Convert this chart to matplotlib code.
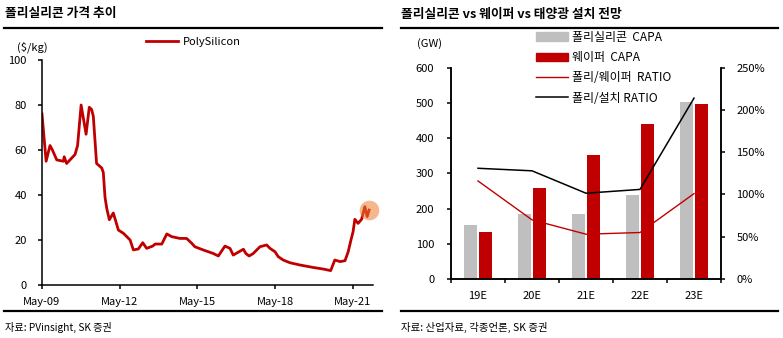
import pandas as pd
import numpy as np
import matplotlib
matplotlib.use("Agg")
import matplotlib.pyplot as plt
import matplotlib.dates as mdates
from matplotlib.lines import Line2D
from matplotlib.patches import Patch
from matplotlib.ticker import FuncFormatter

plt.rcParams["font.family"] = ["Noto Sans CJK KR", "DejaVu Sans"]

# ----------------------------
# Data
# ----------------------------

# polysilicon spot price ($/kg)
poly_dates = [
    "2009-05-01", "2009-06-28", "2009-08-22", "2009-09-25", "2009-11-25",
    "2010-02-27", "2010-03-10", "2010-04-13", "2010-08-10", "2010-09-15",
    "2010-11-04", "2011-01-13", "2011-02-27", "2011-04-01", "2011-04-25",
    "2011-06-10", "2011-08-22", "2011-09-13", "2011-10-07", "2011-11-01",
    "2011-12-07", "2012-02-01", "2012-04-13", "2012-06-22", "2012-09-25",
    "2012-11-10", "2013-01-19", "2013-03-22", "2013-05-16", "2013-08-10",
    "2013-09-13", "2013-12-16", "2014-02-25", "2014-05-04", "2014-08-28",
    "2014-12-01", "2015-02-13", "2015-03-28", "2015-07-22", "2015-12-13",
    "2016-02-22", "2016-05-25", "2016-08-04", "2016-09-19", "2017-02-10",
    "2017-03-16", "2017-05-01", "2017-06-28", "2017-10-01", "2018-01-04",
    "2018-02-19", "2018-05-01", "2018-06-16", "2018-08-25", "2018-11-28",
    "2019-04-16", "2019-10-22", "2020-03-10", "2020-06-25", "2020-08-22",
    "2020-11-04", "2021-01-13", "2021-02-27", "2021-04-07", "2021-05-07",
    "2021-06-01", "2021-07-16", "2021-09-04", "2021-10-19", "2021-11-22",
    "2021-12-19",
]
poly_price = [
    76, 55, 62, 60, 55.6,
    55, 57, 54, 58, 62,
    80, 67, 79, 78, 75,
    54, 52, 50, 39, 34,
    29, 32, 24.4, 23, 20,
    15.6, 16, 18.8, 16.3, 17.3,
    18.2, 18.2, 22.7, 21.5, 20.7,
    20.7, 18.5, 17, 15.6, 14,
    12.9, 17.3, 16.3, 13.3, 15.9,
    14, 12.9, 14, 17, 17.8,
    16.3, 14.8, 12.6, 11.1, 9.9,
    8.9, 7.8, 7.1, 6.4, 11.1,
    10.4, 10.8, 14.8, 20, 23.7,
    29.2, 27.4, 29.2, 34.8, 30.4,
    33.3,
]

# capacity outlook (GW) and ratios
years = ["19E", "20E", "21E", "22E", "23E"]
poly_capa = [153, 185, 185, 238, 503]
wafer_capa = [133, 259, 352, 440, 498]
poly_wafer_ratio = [1.16, 0.70, 0.53, 0.55, 1.01]
poly_install_ratio = [1.31, 1.28, 1.015, 1.06, 2.14]

RED = "#C00000"
GRAY = "#BFBFBF"
TICK_FS = 8

fig = plt.figure(figsize=(7.83, 3.38), dpi=100)
W, H = 783, 338


def fx(px):
    return px / W


def fy(py):
    return 1 - py / H


# ----------------------------
# Left: polysilicon price
# ----------------------------

ax1 = fig.add_axes([fx(42), fy(285), fx(331), 225 / H])

dates = pd.to_datetime(poly_dates)
ax1.plot(dates, poly_price, color=RED, lw=2.0, label="PolySilicon",
         solid_joinstyle="round")
# highlight on the latest price
ax1.scatter(dates[-1:], poly_price[-1:], s=200, color="#ED7D31",
            alpha=0.55, lw=0, zorder=5, clip_on=False)

ax1.set_ylim(0, 100)
ax1.set_yticks(range(0, 101, 20))
ax1.set_xlim(pd.Timestamp("2009-05-01"), pd.Timestamp("2022-02-12"))
ax1.set_xticks(pd.to_datetime(["2009-05-01", "2012-05-01", "2015-05-01",
                               "2018-05-01", "2021-05-01"]))
ax1.xaxis.set_major_formatter(mdates.DateFormatter("%b-%y"))
ax1.spines[["top", "right"]].set_visible(False)
for s in ["left", "bottom"]:
    ax1.spines[s].set_linewidth(1.1)
ax1.tick_params(axis="both", direction="out", length=3, width=1.1,
                labelsize=TICK_FS, colors="#000000")
ax1.tick_params(axis="y", pad=8)
ax1.tick_params(axis="x", pad=5.5)

ax1.legend(loc="upper left", bbox_to_anchor=(fx(146), fy(37)),
           bbox_transform=fig.transFigure, frameon=False, fontsize=8,
           handlelength=2.9, handletextpad=0.45, borderpad=0, borderaxespad=0)

fig.text(fx(17), fy(47), "($/kg)", fontsize=TICK_FS, va="center", ha="left")

# ----------------------------
# Right: capacity outlook
# ----------------------------

ax2 = fig.add_axes([fx(451), fy(279), fx(270), 211.3 / H])
x = np.arange(len(years))
ax2.bar(x - 0.14, poly_capa, width=0.235, color=GRAY)
ax2.bar(x + 0.14, wafer_capa, width=0.235, color=RED)
ax2.set_ylim(0, 600)
ax2.set_yticks(range(0, 601, 100))
ax2.set_xlim(-0.5, 4.5)
ax2.set_xticks(np.arange(-0.5, 5, 1))
ax2.set_xticklabels([])
ax2.set_xticks(x, minor=True)
ax2.set_xticklabels(years, minor=True)
ax2.tick_params(axis="x", which="minor", length=0, labelsize=TICK_FS, pad=8.5)
ax2.tick_params(axis="x", which="major", direction="out", length=3, width=1.1)
ax2.tick_params(axis="y", direction="out", length=3, width=1.1,
                labelsize=TICK_FS, pad=9)
ax2.spines[["top"]].set_visible(False)

ax3 = ax2.twinx()
ax3.plot(x, poly_wafer_ratio, color=RED, lw=1.0)
ax3.plot(x, poly_install_ratio, color="black", lw=1.1)
ax3.set_ylim(0, 2.5)
ax3.set_yticks(np.arange(0, 2.51, 0.5))
ax3.yaxis.set_major_formatter(FuncFormatter(lambda v, _: f"{v * 100:.0f}%"))
ax3.tick_params(axis="y", direction="out", length=3, width=1.1,
                labelsize=TICK_FS, pad=8)
ax3.spines[["top"]].set_visible(False)
for a in (ax2, ax3):
    for s in ["left", "bottom", "right"]:
        a.spines[s].set_linewidth(1.1)

handles = [
    Patch(color=GRAY), Patch(color=RED),
    Line2D([], [], color=RED, lw=1.0), Line2D([], [], color="black", lw=1.1),
]
labels = ["폴리실리콘  CAPA", "웨이퍼  CAPA", "폴리/웨이퍼  RATIO", "폴리/설치 RATIO"]
ax3.legend(handles, labels, loc="upper left", bbox_to_anchor=(fx(536), fy(31)),
           bbox_transform=fig.transFigure, frameon=False, fontsize=8.6,
           handlelength=2.7, handleheight=0.75, handletextpad=0.3,
           labelspacing=0.6, borderpad=0, borderaxespad=0)

fig.text(fx(417), fy(44), "(GW)", fontsize=TICK_FS, va="center", ha="left")

# ----------------------------
# Titles, rules and sources
# ----------------------------

fig.text(fx(5), fy(14), "폴리실리콘 가격 추이", fontsize=9.2, fontweight="bold",
         va="center", ha="left")
fig.text(fx(401), fy(14), "폴리실리콘 vs 웨이퍼 vs 태양광 설치 전망", fontsize=9.2,
         fontweight="bold", va="center", ha="left")

for x0, x1 in [(4, 382), (401, 778)]:
    for yy in (27.7, 311):
        fig.add_artist(Line2D([fx(x0), fx(x1)], [fy(yy), fy(yy)],
                              color="black", lw=1.6))

fig.text(fx(5), fy(327), "자료: PVinsight, SK 증권", fontsize=7.3,
         va="center", ha="left")
fig.text(fx(401), fy(327), "자료: 산업자료, 각종언론, SK 증권", fontsize=7.5,
         va="center", ha="left")

fig.savefig("out.png", dpi=100)
